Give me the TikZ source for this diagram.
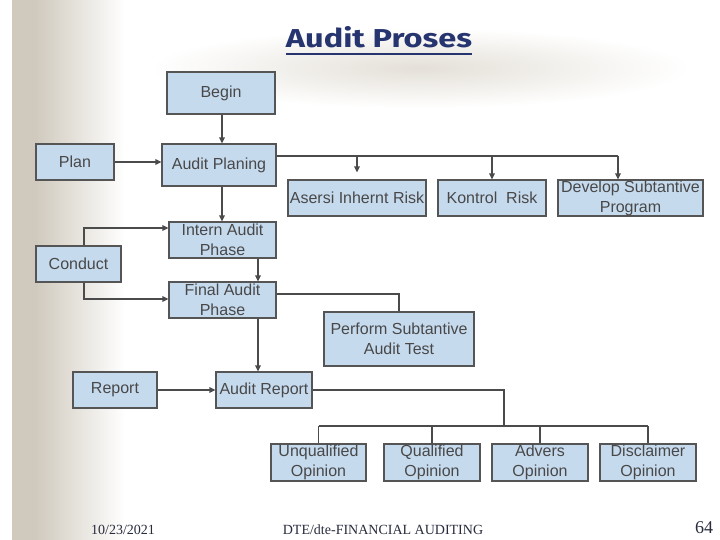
\documentclass[tikz,border=0pt]{standalone}
\usepackage{graphicx}
\usepackage{fontspec}
\setmainfont{Liberation Sans}
\newfontfamily\footfont{Liberation Serif}
\newfontfamily\titlefont{Fira Sans}
\usetikzlibrary{arrows.meta}
\definecolor{boxfill}{RGB}{198,218,238}
\definecolor{boxline}{RGB}{85,85,85}
\definecolor{linec}{RGB}{75,75,75}
\definecolor{txt}{RGB}{72,72,72}
\definecolor{titlec}{RGB}{38,52,112}
\definecolor{strip}{RGB}{208,202,190}
\definecolor{glow}{RGB}{228,224,216}
\definecolor{footc}{RGB}{40,44,60}
\begin{document}
\begin{tikzpicture}[x=1pt,y=-1pt,
  box/.style={draw=boxline, fill=boxfill, line width=1.1pt, inner sep=0pt, text=txt, align=center, font=\fontsize{16}{20}\selectfont},
  flow/.style={draw=linec, line width=2.4pt, -{Triangle[length=6pt,width=5.5pt]}},
  link/.style={draw=linec, line width=1.2pt},
  linkarr/.style={draw=linec, line width=2.2pt, -{Triangle[length=6pt,width=5.5pt]}},
  foot/.style={anchor=base, inner sep=0pt, text=footc, font=\footfont\fontsize{14}{16}\selectfont}]
\useasboundingbox (0,0) rectangle (720,540);
\fill[white] (0,0) rectangle (720,540);
% background
\fill[strip] (12,0) rectangle (36,540);
\shade[left color=strip, right color=white] (35.5,0) rectangle (125,540);
\shade[inner color=glow, outer color=white] (420,68) ellipse [x radius=270, y radius=40];
% title
\node[anchor=base, text=titlec, inner sep=0pt] (title) at (379,48) {\resizebox{186pt}{21pt}{\titlefont\bfseries Audit Proses}};
\draw[titlec, line width=2pt] ([yshift=-6pt]title.base west) -- ([yshift=-6pt]title.base east);
% boxes
\node[box, minimum width=108, minimum height=42] (begin) at (221,93) {Begin};
\node[box, minimum width=78, minimum height=36] (plan) at (75,162) {Plan};
\node[box, minimum width=114, minimum height=42] (aplan) at (219,165) {Audit Planing};
\node[box, minimum width=138, minimum height=36] (asersi) at (357,198) {Asersi Inhernt Risk};
\node[box, minimum width=108, minimum height=36] (kontrol) at (492,198) {Kontrol\ \ Risk};
\node[box, minimum width=145, minimum height=36] (develop) at (630.5,198) {Develop Subtantive\\Program};
\node[box, minimum width=107, minimum height=36] (intern) at (222.5,240) {Intern Audit\\Phase};
\node[box, minimum width=85, minimum height=36] (conduct) at (78.5,264) {Conduct};
\node[box, minimum width=107, minimum height=36] (final) at (222.5,300) {Final Audit\\Phase};
\node[box, minimum width=150, minimum height=54] (perform) at (399,339) {Perform Subtantive\\Audit Test};
\node[box, minimum width=84, minimum height=36] (report) at (115,390) {Report};
\node[box, minimum width=96, minimum height=36] (areport) at (264,390) {Audit Report};
\node[box, minimum width=95, minimum height=37] (unq) at (318.5,462.5) {Unqualified\\Opinion};
\node[box, minimum width=96, minimum height=37] (qual) at (432,462.5) {Qualified\\Opinion};
\node[box, minimum width=96, minimum height=37] (adv) at (540,462.5) {Advers\\Opinion};
\node[box, minimum width=96, minimum height=37] (disc) at (648,462.5) {Disclaimer\\Opinion};
% helper coordinates
\coordinate (col1) at (222,0);
\coordinate (col2) at (258,0);
\coordinate (ccol) at (84,0);
\coordinate (bus1) at (618,156);
\coordinate (bus2) at (504,426);
% main flow
\draw[flow] (col1 |- begin.south) -- (col1 |- aplan.north);
\draw[flow] (col1 |- aplan.south) -- (col1 |- intern.north);
\draw[flow] (col2 |- intern.south) -- (col2 |- final.north);
\draw[flow] (col2 |- final.south) -- (col2 |- areport.north);
\draw[flow] (plan.east) -- (plan.east -| aplan.west);
\draw[flow] (report.east) -- (report.east -| areport.west);
\draw[flow] (ccol |- conduct.north) |- ([yshift=12pt]intern.west);
\draw[flow] (ccol |- conduct.south) |- ([yshift=1pt]final.west);
% planning branch
\draw[link, line width=1.5pt] (aplan.east |- bus1) -- (bus1);
\draw[linkarr, shorten >=7pt] (asersi.north |- bus1) -- (asersi.north);
\draw[linkarr] (kontrol.north |- bus1) -- (kontrol.north);
\draw[linkarr] (bus1) -- (bus1 |- develop.north);
% final audit branch
\draw[link] ([yshift=6pt]final.east) -| (perform.north);
% report branch
\draw[link] (areport.east) -| (bus2);
\draw[link] (unq.north |- bus2) -- (disc.north |- bus2);
\draw[link] (unq.north |- bus2) -- (unq.north);
\draw[link] (qual.north |- bus2) -- (qual.north);
\draw[link] (adv.north |- bus2) -- (adv.north);
\draw[link] (disc.north |- bus2) -- (disc.north);
% footer
\node[foot] (date) at (123,534) {10/23/2021};
\node[foot] (footer) at (383,534) {DTE/dte-FINANCIAL AUDITING};
\node[foot, font=\footfont\fontsize{18}{20}\selectfont] (page) at (704,533) {64};
\end{tikzpicture}
\end{document}
